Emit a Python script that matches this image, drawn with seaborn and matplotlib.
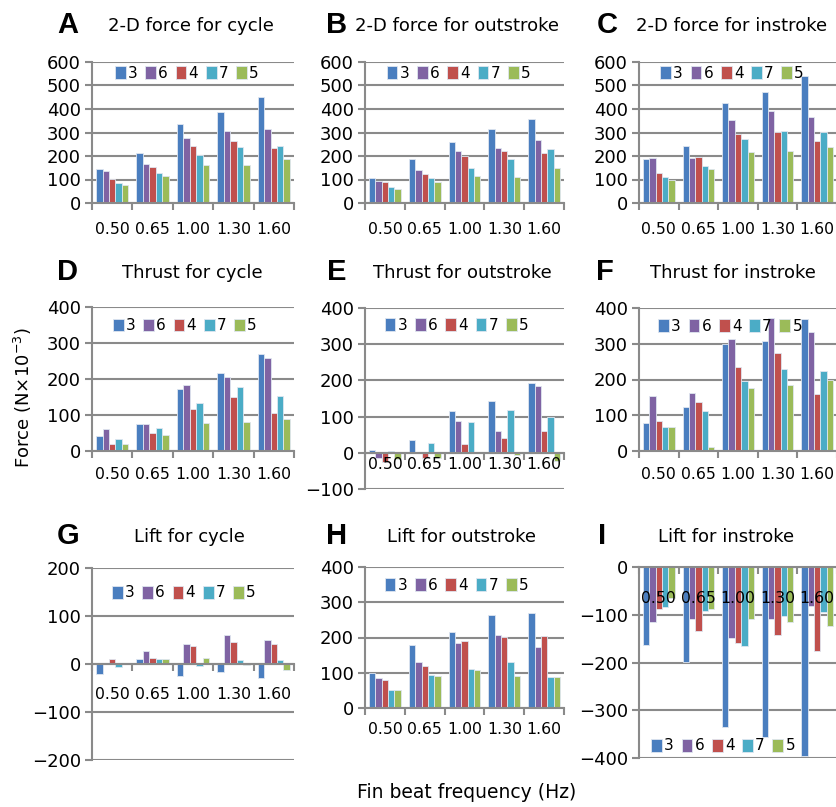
import matplotlib
matplotlib.use('Agg')
import matplotlib.pyplot as plt
import seaborn as sns
import pandas as pd
import numpy as np

# ------------------------------------------------------------
# Data (N x 10^-3)
# rows follow the fin order 3, 6, 4, 7, 5; columns follow freqs
# ------------------------------------------------------------
freqs = ['0.50', '0.65', '1.00', '1.30', '1.60']
fins = ['3', '6', '4', '7', '5']
fin_colors = ['#4a7ebf', '#7f63a3', '#c0504d', '#4bacc6', '#9bbb59']

force_cycle = [[144, 212, 335, 387, 450],
               [137, 165, 277, 305, 313],
               [103, 153, 242, 264, 232],
               [86, 127, 203, 240, 243],
               [75, 113, 160, 161, 188]]
force_out = [[105, 188, 261, 315, 358],
             [94, 140, 220, 232, 267],
             [88, 122, 202, 223, 211],
             [66, 105, 147, 187, 229],
             [59, 88, 114, 110, 147]]
force_in = [[186, 244, 425, 471, 541],
            [192, 192, 353, 391, 365],
            [126, 196, 295, 304, 265],
            [109, 156, 273, 308, 303],
            [97, 144, 219, 222, 237]]
thrust_cycle = [[42, 75, 173, 217, 270],
                [60, 74, 182, 205, 259],
                [19, 49, 117, 151, 105],
                [34, 65, 133, 178, 154],
                [20, 44, 79, 81, 89]]
thrust_out = [[8, 34, 116, 143, 193],
              [-13, 0, 87, 60, 185],
              [-26, -15, 23, 41, 61],
              [6, 26, 84, 118, 98],
              [-18, -13, 0, -5, -24]]
thrust_in = [[79, 123, 299, 307, 368],
             [153, 163, 312, 371, 333],
             [83, 136, 235, 274, 160],
             [67, 111, 196, 230, 225],
             [68, 12, 177, 185, 200]]
lift_cycle = [[-21, 10, -25, -17, -30],
              [0, 27, 41, 60, 50],
              [10, 12, 37, 46, 42],
              [-6, 10, -5, 8, 8],
              [0, 10, 12, -3, -12]]
lift_out = [[98, 178, 216, 265, 270],
            [86, 130, 184, 206, 174],
            [80, 119, 191, 202, 203],
            [52, 93, 112, 131, 89],
            [50, 90, 107, 90, 87]]
lift_in = [[-163, -199, -336, -356, -396],
           [-116, -108, -148, -109, -81],
           [-89, -135, -159, -142, -175],
           [-84, -93, -165, -103, -95],
           [-65, -87, -109, -115, -124]]

# letter, title, values, ylim, axes box in px (left, top, w, h),
# legend centre (axes frac), x-label pad, letter x, title x, row y
panels = [
    ('A', '2-D force for cycle', force_cycle, (0, 600), (92, 62, 202, 141), (0.47, 0.92), 13.5, 68, 191, 25),
    ('B', '2-D force for outstroke', force_out, (0, 600), (365, 62, 199, 141), (0.47, 0.92), 13.5, 337, 457, 25),
    ('C', '2-D force for instroke', force_in, (0, 600), (639, 62, 198, 141), (0.47, 0.92), 13.5, 607, 732, 25),
    ('D', 'Thrust for cycle', thrust_cycle, (0, 400), (92, 307, 202, 144), (0.46, 0.87), 11.5, 68, 192, 272),
    ('E', 'Thrust for outstroke', thrust_out, (-100, 400), (365, 308, 199, 181), (0.46, 0.905), 3, 337, 462, 272),
    ('F', 'Thrust for instroke', thrust_in, (0, 400), (639, 308, 198, 143), (0.46, 0.87), 11.5, 605, 733, 272),
    ('G', 'Lift for cycle', lift_cycle, (-200, 200), (92, 568, 202, 192), (0.455, 0.87), 16.5, 68, 189, 536),
    ('H', 'Lift for outstroke', lift_out, (0, 400), (365, 567, 199, 141), (0.46, 0.87), 10, 337, 462, 536),
    ('I', 'Lift for instroke', lift_in, (-400, 0), (639, 567, 198, 191), (0.425, 0.063), 17, 602, 726, 536),
]

W, H = 837, 807
GRID = '#8a8a8a'

plt.rcParams['font.family'] = ['DejaVu Sans']
fig = plt.figure(figsize=(W / 100, H / 100), dpi=100)

for letter, title, vals, ylim, box, leg, pad, lx, tx, ry in panels:
    x0, top, w, h = box
    ax = fig.add_axes([x0 / W, 1 - (top + h) / H, w / W, h / H])

    rows = []
    for fi, fin in enumerate(fins):
        for qi, fq in enumerate(freqs):
            rows.append({'freq': fq, 'fin': fin, 'value': vals[fi][qi]})
    df = pd.DataFrame(rows)

    sns.barplot(data=df, x='freq', y='value', hue='fin', order=freqs,
                hue_order=fins, palette=fin_colors, saturation=1,
                width=0.8, edgecolor='#dfe6f0', linewidth=0.6, ax=ax,
                errorbar=None)

    ax.set_ylim(*ylim)
    ax.set_xlim(-0.5, 4.5)
    ax.set_yticks(np.arange(ylim[0], ylim[1] + 1, 100))
    ax.set_xlabel('')
    ax.set_ylabel('')

    # gridlines behind bars, category labels on top
    ax.set_axisbelow(True)
    ax.yaxis.grid(True, color=GRID, linewidth=1.5)
    ax.xaxis.grid(False)
    for s in ['top', 'right']:
        ax.spines[s].set_visible(False)
    ax.spines['left'].set_color(GRID)
    ax.spines['left'].set_linewidth(1.5)
    ax.spines['bottom'].set_position(('data', 0))
    ax.spines['bottom'].set_color(GRID)
    ax.spines['bottom'].set_linewidth(1.5)
    ax.xaxis.set_zorder(3)

    ax.set_xticks(range(5))
    ax.set_xticklabels(freqs)
    ax.set_xticks(np.arange(-0.5, 5, 1), minor=True)
    ax.tick_params(axis='x', which='major', length=0, pad=pad, labelsize=11.3)
    ax.tick_params(axis='x', which='minor', length=5, width=1.5, color=GRID)
    ax.tick_params(axis='y', length=5, width=1.5, color=GRID, labelsize=13, pad=3)

    handles, labels = ax.get_legend_handles_labels()
    ax.legend(handles, labels, ncol=5, loc='center', bbox_to_anchor=leg,
              frameon=False, fontsize=11, handlelength=0.7, handleheight=0.9,
              handletextpad=0.15, columnspacing=0.5, borderaxespad=0,
              borderpad=0)

    fig.text(lx / W, 1 - ry / H, letter, fontsize=21, fontweight='bold',
             family='Liberation Sans', ha='center', va='center')
    fig.text(tx / W, 1 - (ry + 1) / H, title, fontsize=13,
             ha='center', va='center')

fig.text(23 / W, 1 - 398 / H, 'Force (N\u00d710$^{-3}$)', rotation=90,
         fontsize=13, ha='center', va='center')
fig.text(467 / W, 1 - 792 / H, 'Fin beat frequency (Hz)', fontsize=13.5,
         ha='center', va='center')

fig.savefig('out.png', dpi=100)
plt.close()
